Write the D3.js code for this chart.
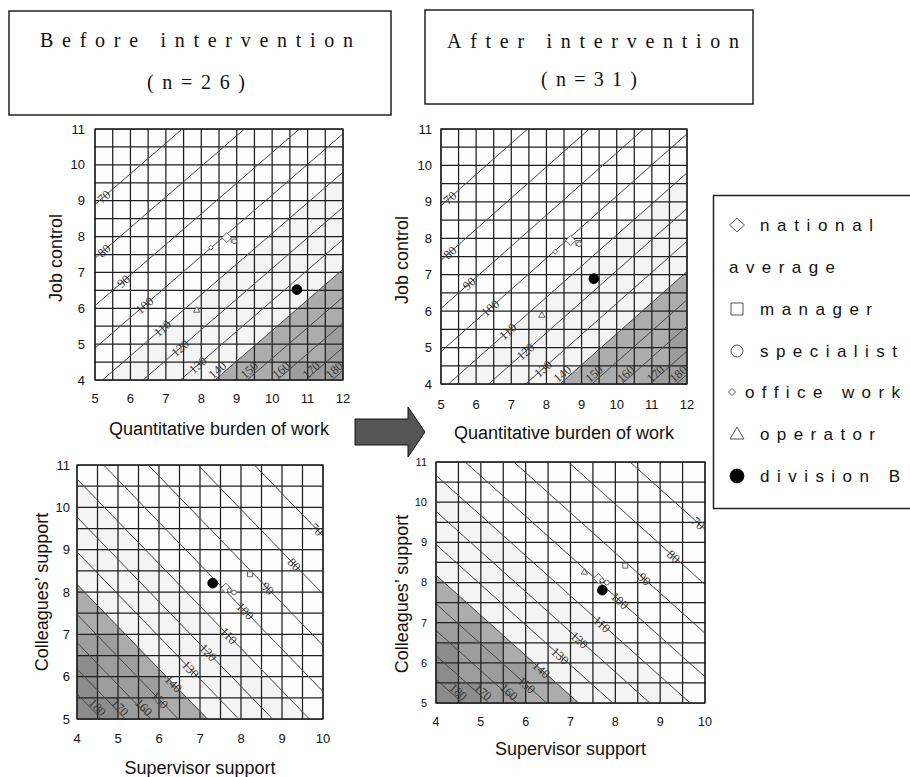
<!DOCTYPE html>
<html><head><meta charset="utf-8">
<script src="https://cdn.jsdelivr.net/npm/d3@7"></script>
<style>body{margin:0;background:#fff}</style>
</head><body><svg id="c" width="910" height="777"></svg>
<script>
// ---------- data ----------
const groups = ["national average","manager","specialist","office work","operator","division B"];
const burdenBefore     = [8.72, 8.91, 8.93, 8.27, 7.87, 10.70];
const controlBefore    = [7.97, 7.91, 7.87, 7.69, 5.96, 6.52];
const burdenAfter      = [8.69, 8.91, 8.93, 8.25, 7.87, 9.35];
const controlAfter     = [7.94, 7.87, 7.84, 7.63, 5.90, 6.89];
const supervisorBefore = [7.63, 8.22, 7.83, 7.72, 7.31, 7.31];
const colleagueBefore  = [8.09, 8.42, 7.99, 8.05, 8.25, 8.21];
const supervisorAfter  = [7.62, 8.22, 7.81, 7.70, 7.31, 7.71];
const colleagueAfter   = [8.10, 8.42, 8.00, 8.05, 8.27, 7.81];
const riskLevels = [70, 80, 90, 100, 110, 120, 130, 140, 150, 160, 170, 180];
const jobLabelAt     = [5.25, 5.25, 5.8, 6.4, 6.9, 7.4, 7.9, 8.45, 9.35, 10.25, 11.1, 11.75];
const supportLabelAt = [9.85, 9.3, 8.65, 8.1, 7.7, 7.2, 6.77, 6.35, 6.02, 5.63, 5.05, 4.5];
// health-risk model: log(risk/100) = cx*(x-mx) + cy*(y-my)
const jobCoef = [0.076, -0.089], jobMean = [8.7, 8.05];
const supportCoef = [-0.097, -0.097], supportMean = [7.55, 8.1];
const lightBand = 110, shadeLevel = 140;
const jobTicksX = [5,6,7,8,9,10,11,12], jobTicksY = [4,5,6,7,8,9,10,11];
const supTicksX = [4,5,6,7,8,9,10], supTicksY = [5,6,7,8,9,10,11];
// darker cells [x0,x1,y0,y1]
const jobDarkTL = [[10.5,12,4,4.5],[11.5,12,4.5,5.5]];
const jobDarkTR = [[11,12,4,4.5],[11.5,12,4.5,5.5]];
const supDark = [[4,5,5,7],[5,5.5,5,6.5],[5.5,6,5,6]];
const supDarkest = [[4,4.5,5,6.5],[4.5,5,5,5.5]];
const legendLabels = ["national","average","manager","specialist","office work","operator","division B"];

// ---------- drawing ----------
const svg = d3.select("#c");
const SANS = "Liberation Sans, Arial, sans-serif";
const SERIF = "Liberation Serif, Times New Roman, serif";

function diamondPath(w,h){return `M0,${-h/2}L${w/2},0L0,${h/2}L${-w/2},0Z`;}
function markerPath(i, big){
  switch(i){
    case 0: return big ? diamondPath(15,13.5) : diamondPath(10,10);
    case 1: return big ? "M-6,-6H6V6H-6Z" : "M-2.5,-2.5H2.5V2.5H-2.5Z";
    case 2: return d3.symbol(d3.symbolCircle, big ? 113 : 18)();
    case 3: return big ? diamondPath(7,7) : diamondPath(5,5);
    case 4: return big ? "M0,-6L7,6H-7Z" : "M0,-3L3.2,2.5H-3.2Z";
    case 5: return d3.symbol(d3.symbolCircle, big ? 150 : 75)();
  }
}

function clipPoly(poly, f){ // keep f>=0
  const out=[];
  for(let i=0;i<poly.length;i++){
    const a=poly[i], b=poly[(i+1)%poly.length];
    const fa=f(a), fb=f(b);
    if(fa>=0) out.push(a);
    if((fa>=0)!==(fb>=0)){
      const t=fa/(fa-fb);
      out.push([a[0]+t*(b[0]-a[0]), a[1]+t*(b[1]-a[1])]);
    }
  }
  return out;
}

function panel(cfg){
  const x = d3.scaleLinear().domain(cfg.xDom).range([cfg.x0,cfg.x1]);
  const y = d3.scaleLinear().domain(cfg.yDom).range([cfg.y1,cfg.y0]);
  const [cx,cy]=cfg.coef, [mx,my]=cfg.mean;
  const g = svg.append("g");
  const cid = "clip"+cfg.id;
  g.append("clipPath").attr("id",cid).append("rect")
    .attr("x",cfg.x0).attr("y",cfg.y0).attr("width",cfg.x1-cfg.x0).attr("height",cfg.y1-cfg.y0);
  const rect=[[cfg.xDom[0],cfg.yDom[0]],[cfg.xDom[1],cfg.yDom[0]],[cfg.xDom[1],cfg.yDom[1]],[cfg.xDom[0],cfg.yDom[1]]];
  const line = d3.line().x(d=>x(d[0])).y(d=>y(d[1]));
  const lr = (p)=>cx*(p[0]-mx)+cy*(p[1]-my);
  g.append("path").attr("d",line(rect)+"Z").attr("fill","#fdfdfd");
  const band = clipPoly(rect, p=>lr(p)-Math.log(cfg.light/100));
  g.append("path").attr("d",line(band)+"Z").attr("fill","#f4f4f4");
  const shade = clipPoly(rect, p=>lr(p)-Math.log(shadeLevel/100));
  g.append("path").attr("d",line(shade)+"Z").attr("fill","#acacac");
  (cfg.dark||[]).forEach(c=>g.append("rect").attr("x",x(c[0])).attr("y",y(c[3]))
     .attr("width",x(c[1])-x(c[0])).attr("height",y(c[2])-y(c[3])).attr("fill","#9d9d9d"));
  (cfg.darkest||[]).forEach(c=>g.append("rect").attr("x",x(c[0])).attr("y",y(c[3]))
     .attr("width",x(c[1])-x(c[0])).attr("height",y(c[2])-y(c[3])).attr("fill","#8c8c8c"));
  // grid
  const gx = d3.range(cfg.xDom[0], cfg.xDom[1]+0.01, 0.5);
  const gy = d3.range(cfg.yDom[0], cfg.yDom[1]+0.01, 0.5);
  g.selectAll(null).data(gx).enter().append("line")
    .attr("x1",d=>x(d)).attr("x2",d=>x(d)).attr("y1",cfg.y0).attr("y2",cfg.y1)
    .attr("stroke","#1e1e1e").attr("stroke-width",1.25);
  g.selectAll(null).data(gy).enter().append("line")
    .attr("y1",d=>y(d)).attr("y2",d=>y(d)).attr("x1",cfg.x0).attr("x2",cfg.x1)
    .attr("stroke","#1e1e1e").attr("stroke-width",1.25);
  // contours
  const cyOf = (L,xx)=> my + (Math.log(L/100) - cx*(xx-mx))/cy;
  const cg = g.append("g").attr("clip-path",`url(#${cid})`);
  riskLevels.forEach(L=>{
    const pts=[[cfg.xDom[0]-1, cyOf(L,cfg.xDom[0]-1)],[cfg.xDom[1]+1, cyOf(L,cfg.xDom[1]+1)]];
    cg.append("path").attr("d",line(pts)).attr("stroke","#444").attr("stroke-width",1).attr("fill","none");
  });
  // labels
  const ang = Math.atan2(y(cyOf(100,cfg.xDom[1]))-y(cyOf(100,cfg.xDom[0])), x(cfg.xDom[1])-x(cfg.xDom[0]))*180/Math.PI;
  riskLevels.forEach((L,i)=>{
    const xx = cfg.labelAt[i];
    let yy = Math.max(cyOf(L,xx), cfg.yDom[0]+0.28);
    yy = Math.min(yy, cfg.yDom[1]-0.2);
    cg.append("text").attr("transform",`translate(${x(xx)},${y(yy)}) rotate(${ang})`)
      .attr("text-anchor","middle").attr("dy","0.35em")
      .attr("font-family",SERIF).attr("font-size",12.5).attr("fill","#333").text(L);
  });
  // markers
  cfg.xs.forEach((v,i)=>{
    g.append("path").attr("d",markerPath(i,false))
      .attr("transform",`translate(${x(v)},${y(cfg.ys[i])})`)
      .attr("fill", i===5 ? "#000" : "#fff").attr("stroke", i===5?"#000":"#555").attr("stroke-width",0.9);
  });
  // border
  g.append("rect").attr("x",cfg.x0).attr("y",cfg.y0).attr("width",cfg.x1-cfg.x0).attr("height",cfg.y1-cfg.y0)
    .attr("fill","none").attr("stroke","#222").attr("stroke-width",1.3);
  // ticks
  g.selectAll(null).data(cfg.ticksX).enter().append("text")
    .attr("x",d=>x(d)).attr("y",cfg.tickXBase).attr("text-anchor","middle")
    .attr("font-family",SANS).attr("font-size",cfg.tickFontX).attr("fill","#111").text(d=>d);
  g.selectAll(null).data(cfg.ticksY).enter().append("text")
    .attr("x",cfg.tickYRight).attr("y",d=>y(d)).attr("dy","0.35em").attr("text-anchor","end")
    .attr("font-family",SANS).attr("font-size",cfg.tickFontY).attr("fill","#111").text(d=>d);
  // titles
  g.append("text").attr("x",(cfg.x0+cfg.x1)/2).attr("y",cfg.xTitleBase).attr("text-anchor","middle")
    .attr("font-family",SANS).attr("font-size",18).attr("fill","#111").text(cfg.xTitle);
  g.append("text").attr("transform",`translate(${cfg.yTitleX},${cfg.yTitleY}) rotate(-90)`)
    .attr("text-anchor","middle").attr("font-family",SANS).attr("font-size",18).attr("fill","#111").text(cfg.yTitle);
}

panel({id:"tl", x0:95,x1:343,y0:129,y1:380, xDom:[5,12], yDom:[4,11], coef:jobCoef, mean:jobMean,
  light:lightBand, dark:jobDarkTL, labelAt:jobLabelAt, xs:burdenBefore, ys:controlBefore,
  ticksX:jobTicksX, ticksY:jobTicksY, tickXBase:403, tickYRight:85, tickFontX:13, tickFontY:13,
  xTitle:"Quantitative burden of work", xTitleBase:435, yTitle:"Job control", yTitleX:62, yTitleY:258});
panel({id:"tr", x0:441,x1:687,y0:129,y1:384, xDom:[5,12], yDom:[4,11], coef:jobCoef, mean:jobMean,
  light:lightBand, dark:jobDarkTR, labelAt:jobLabelAt, xs:burdenAfter, ys:controlAfter,
  ticksX:jobTicksX, ticksY:jobTicksY, tickXBase:409, tickYRight:432, tickFontX:13, tickFontY:13,
  xTitle:"Quantitative burden of work", xTitleBase:439, yTitle:"Job control", yTitleX:408, yTitleY:260});
panel({id:"bl", x0:77,x1:323,y0:465,y1:719, xDom:[4,10], yDom:[5,11], coef:supportCoef, mean:supportMean,
  light:lightBand, dark:supDark, darkest:supDarkest, labelAt:supportLabelAt, xs:supervisorBefore, ys:colleagueBefore,
  ticksX:supTicksX, ticksY:supTicksY, tickXBase:743, tickYRight:70, tickFontX:13, tickFontY:13,
  xTitle:"Supervisor support", xTitleBase:774, yTitle:"Colleagues’ support", yTitleX:48, yTitleY:592});
panel({id:"br", x0:436,x1:705,y0:462,y1:703, xDom:[4,10], yDom:[5,11], coef:supportCoef, mean:supportMean,
  light:lightBand, dark:supDark, darkest:supDarkest, labelAt:supportLabelAt, xs:supervisorAfter, ys:colleagueAfter,
  ticksX:supTicksX, ticksY:supTicksY, tickXBase:726, tickYRight:427, tickFontX:12.5, tickFontY:11,
  xTitle:"Supervisor support", xTitleBase:755, yTitle:"Colleagues’ support", yTitleX:408, yTitleY:594});

// arrow
svg.append("path").attr("d","M355,419H408V407L425,432L408,457V445H355Z")
  .attr("fill","#555").attr("stroke","#111").attr("stroke-width",1);

// title boxes
function titleBox(bx,by,bw,bh,l1,x1,w1,b1,l2,x2,w2,b2){
  svg.append("rect").attr("x",bx).attr("y",by).attr("width",bw).attr("height",bh)
    .attr("fill","#fff").attr("stroke","#222").attr("stroke-width",1.5);
  svg.append("text").attr("x",x1).attr("y",b1).attr("textLength",w1).attr("lengthAdjust","spacing")
    .attr("font-family",SERIF).attr("font-size",20).attr("fill","#111").text(l1);
  svg.append("text").attr("x",x2).attr("y",b2).attr("textLength",w2).attr("lengthAdjust","spacing")
    .attr("font-family",SERIF).attr("font-size",20).attr("fill","#111").text(l2);
}
titleBox(9,11,382,104,"Before intervention",40,313,47,"(n=26)",147,98,89);
titleBox(425,10,328,94,"After intervention",447,292,48,"(n=31)",541,96,86);

// legend
svg.append("rect").attr("x",713.5).attr("y",195.5).attr("width",210).attr("height",313)
  .attr("fill","#fff").attr("stroke","#222").attr("stroke-width",1.5);
const legRows = [
  {sym:0, sx:737, sy:225, tx:760, w:113, b:231},
  {sym:-1, tx:729, w:106, b:273},
  {sym:1, sx:737, sy:309, tx:760, w:112, b:315},
  {sym:2, sx:737, sy:351, tx:760, w:137, b:357},
  {sym:3, sx:732, sy:392, tx:745, w:155, b:398},
  {sym:4, sx:737, sy:433, tx:760, w:115, b:440},
  {sym:5, sx:737, sy:476, tx:760, w:140, b:482}
];
legRows.forEach((r,i)=>{
  if(r.sym>=0) svg.append("path").attr("d",markerPath(r.sym,true)).attr("transform",`translate(${r.sx},${r.sy})`)
    .attr("fill", r.sym===5?"#000":"#fff").attr("stroke", r.sym===5?"#000":"#555").attr("stroke-width",1);
  svg.append("text").attr("x",r.tx).attr("y",r.b).attr("textLength",r.w).attr("lengthAdjust","spacing")
    .attr("font-family",SANS).attr("font-size",17).attr("fill","#111").text(legendLabels[i]);
});
</script></body></html>
